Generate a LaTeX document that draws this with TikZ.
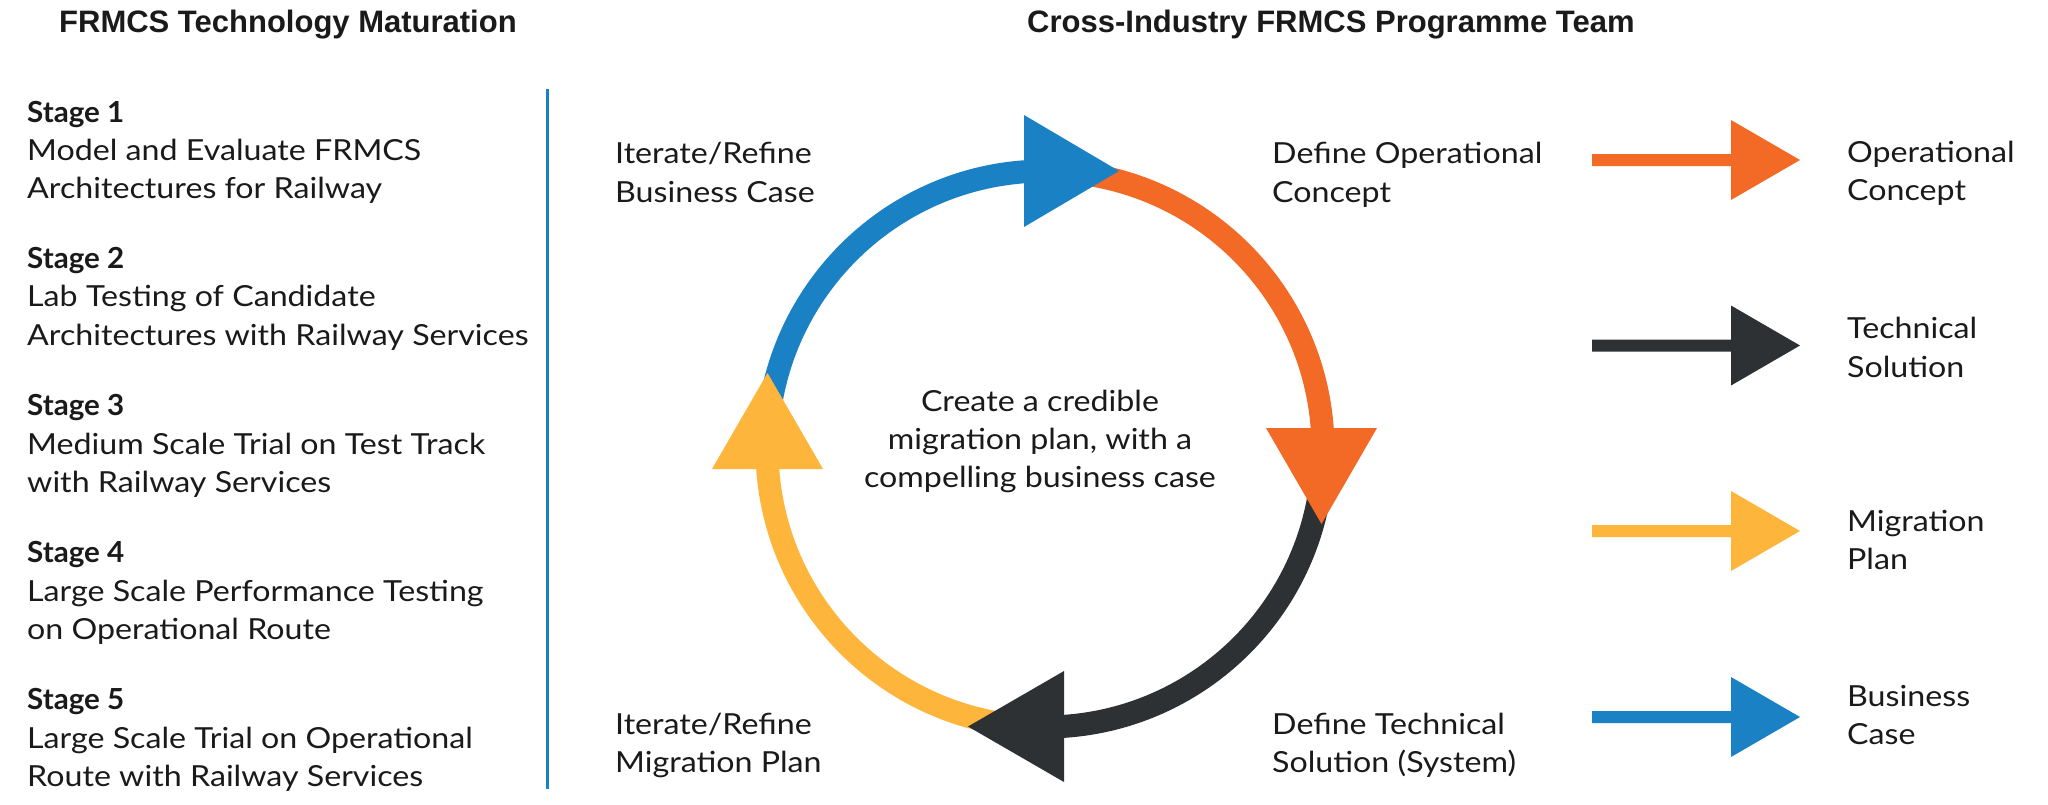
\documentclass[tikz,border=0pt]{standalone}
\usepackage{fontspec}
\setmainfont{Lato}[FakeStretch=1.11]
\newfontfamily\stagef{Lato}[FakeStretch=1.02]
\newfontfamily\titlef{Liberation Sans}
\definecolor{cblue}{HTML}{1A82C4}
\definecolor{corange}{HTML}{F26A25}
\definecolor{cdark}{HTML}{2E3134}
\definecolor{cyellow}{HTML}{FDB63B}
\definecolor{ctext}{HTML}{1A1A1A}
\tikzset{
  txt/.style={anchor=base west, inner sep=0pt, text=ctext, font=\fontsize{29}{38}\selectfont},
  stg/.style={anchor=base west, inner sep=0pt, text=ctext, font=\stagef\fontsize{29}{38}\selectfont\bfseries},
  ttl/.style={anchor=base west, inner sep=0pt, text=ctext, font=\titlef\fontsize{31}{36}\selectfont\bfseries},
  ctr/.style={anchor=base, inner sep=0pt, text=ctext, font=\fontsize{29}{38}\selectfont},
  ring/.style={line width=23pt, line cap=butt},
}
\begin{document}
\begin{tikzpicture}[x=1pt,y=-1pt]
\useasboundingbox[fill=white] (0,0) rectangle (2048,804);

% titles
\node[ttl] (t1) at (59,32) {FRMCS Technology Maturation};
\node[ttl] (t2) at (1027,32) {Cross-Industry FRMCS Programme Team};

% stages
\node[stg] (s1) at (27,122) {Stage 1};
\node[txt] (s1a) at (27,160) {Model and Evaluate FRMCS};
\node[txt] (s1b) at (27,198) {Architectures for Railway};
\node[stg] (s2) at (27,268) {Stage 2};
\node[txt] (s2a) at (27,306) {Lab Testing of Candidate};
\node[txt] (s2b) at (27,345) {Architectures with Railway Services};
\node[stg] (s3) at (27,415) {Stage 3};
\node[txt] (s3a) at (27,454) {Medium Scale Trial on Test Track};
\node[txt] (s3b) at (27,492) {with Railway Services};
\node[stg] (s4) at (27,562) {Stage 4};
\node[txt] (s4a) at (27,601) {Large Scale Performance Testing};
\node[txt] (s4b) at (27,639) {on Operational Route};
\node[stg] (s5) at (27,709) {Stage 5};
\node[txt] (s5a) at (27,748) {Large Scale Trial on Operational};
\node[txt] (s5b) at (27,786) {Route with Railway Services};

% divider
\coordinate (d1) at (547,89);
\coordinate (d2) at (547,789);
\draw[cblue, line width=3pt] (d1) -- (d2);

% cycle labels
\node[txt] (ib1) at (615,163) {Iterate/Refine};
\node[txt] (ib2) at (615,202) {Business Case};
\node[txt] (im1) at (615,734) {Iterate/Refine};
\node[txt] (im2) at (615,772) {Migration Plan};
\node[txt] (do1) at (1272,163) {Define Operational};
\node[txt] (do2) at (1272,202) {Concept};
\node[txt] (dt1) at (1272,734) {Define Technical};
\node[txt] (dt2) at (1272,772) {Solution (System)};

% centre text
\node[ctr] (c1) at (1040,411) {Create a credible};
\node[ctr] (c2) at (1040,449) {migration plan, with a};
\node[ctr] (c3) at (1040,487) {compelling business case};

% ring
\coordinate (cc) at (1045,449);
\draw[ring, cblue]   (cc) ++(180:278) arc[start angle=180, end angle=268, radius=278];
\draw[ring, corange] (cc) ++(275:278) arc[start angle=275, end angle=358, radius=278];
\draw[ring, cdark]   (cc) ++(5:278)   arc[start angle=5,   end angle=88,  radius=278];
\draw[ring, cyellow] (cc) ++(95:278)  arc[start angle=95,  end angle=178, radius=278];
\fill[cblue]   (1024,115) -- (1024,227) -- (1119,171) -- cycle;
\fill[corange] (1266,428) -- (1377,428) -- (1321.5,524) -- cycle;
\fill[cdark]   (1064,671) -- (1064,782) -- (968,726.5) -- cycle;
\fill[cyellow] (712,469) -- (823,469) -- (767.5,373) -- cycle;

% output arrows
\foreach \nm/\yy/\col in {ao/160/corange, at/345.5/cdark, am/531/cyellow, ab/717/cblue}{
  \coordinate (\nm) at (1592,\yy);
  \fill[\col] (\nm) ++(0,-6) -- ++(139,0) -- ++(0,-34) -- ++(69,40) -- ++(-69,40) -- ++(0,-34) -- ++(-139,0) -- cycle;
}

% output labels
\node[txt] (oc1) at (1847,162) {Operational};
\node[txt] (oc2) at (1847,200) {Concept};
\node[txt] (ts1) at (1847,338) {Technical};
\node[txt] (ts2) at (1847,377) {Solution};
\node[txt] (mp1) at (1847,531) {Migration};
\node[txt] (mp2) at (1847,569) {Plan};
\node[txt] (bc1) at (1847,706) {Business};
\node[txt] (bc2) at (1847,744) {Case};
\end{tikzpicture}
\end{document}
